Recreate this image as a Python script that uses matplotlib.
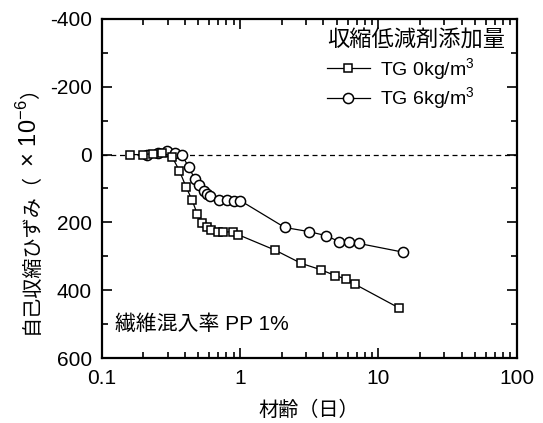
import matplotlib
matplotlib.use("Agg")
import matplotlib.pyplot as plt
from matplotlib.ticker import FixedLocator, NullFormatter, LogLocator

plt.rcParams['font.family'] = ['Liberation Sans', 'Noto Sans CJK JP', 'DejaVu Sans']
plt.rcParams['mathtext.fontset'] = 'custom'
plt.rcParams['mathtext.rm'] = 'Liberation Sans'
plt.rcParams['mathtext.it'] = 'Liberation Sans'
plt.rcParams['axes.unicode_minus'] = False

# Data
age_tg0 = [0.16, 0.20, 0.235, 0.275, 0.323, 0.365, 0.408, 0.451, 0.492, 0.532, 0.575,
           0.615, 0.695, 0.759, 0.896, 0.969, 1.80, 2.78, 3.87, 4.89, 5.84, 6.82, 14.2]
strain_tg0 = [0, 0, -3, -5, 6, 47, 95, 134, 175, 203, 215,
              222, 227, 229, 227, 236, 282, 321, 340, 357, 367, 383, 453]
age_tg6 = [0.212, 0.256, 0.296, 0.341, 0.382, 0.427, 0.471, 0.509, 0.550, 0.581, 0.608,
           0.710, 0.811, 0.906, 1.01, 2.11, 3.14, 4.19, 5.23, 6.18, 7.22, 15.2]
strain_tg6 = [0, -4, -10, -6, 2, 37, 71, 91, 108, 116, 122,
              134, 134, 136, 136, 215, 227, 239, 257, 259, 262, 288]

legend_title = '収縮低減剤添加量'
labels = ['TG 0kg/m$^3$', 'TG 6kg/m$^3$']
xlabel = '材齢（日）'
ylabel_parts = ['自己収縮ひずみ（', ' × 10$^{-6}$', '）']
note = '繊維混入率 PP 1%'
yticks = [-400, -200, 0, 200, 400, 600]

W, H = 543, 423
fig = plt.figure(figsize=(W/100, H/100), dpi=100)
ax = fig.add_axes([101.5/W, 1 - 358/H, (516.7-101.5)/W, (358-19)/H])

ax.axhline(0, color='black', lw=0.9, ls=(0, (4, 3)), zorder=1)
ax.plot(age_tg0, strain_tg0, color='black', lw=0.9, marker='s', ms=6.2,
        mfc='white', mec='black', mew=1.1, label=labels[0], zorder=3)
ax.plot(age_tg6, strain_tg6, color='black', lw=0.9, marker='o', ms=7.3,
        mfc='white', mec='black', mew=1.1, label=labels[1], zorder=2)

ax.set_xscale('log')
ax.set_xlim(0.1, 100)
ax.set_ylim(600, -400)
ax.set_yticks(yticks)
ax.set_yticklabels([str(v) for v in yticks])
ax.yaxis.set_minor_locator(FixedLocator([-300, -100, 100, 300, 500]))
ax.xaxis.set_minor_locator(LogLocator(base=10, subs=range(2, 10)))
ax.xaxis.set_minor_formatter(NullFormatter())
ax.set_xticks([0.1, 1, 10, 100])
ax.set_xticklabels(['0.1', '1', '10', '100'])

ax.tick_params(which='both', direction='in', top=True, right=True, labelsize=15, width=1.2)
ax.tick_params(which='major', length=7)
ax.tick_params(which='minor', length=4)
ax.tick_params(axis='x', which='major', pad=8)
ax.tick_params(axis='y', which='major', pad=7)
for s in ax.spines.values():
    s.set_linewidth(1.6)

ax.set_xlabel(xlabel, fontsize=14.5, labelpad=9)

leg = ax.legend(title=legend_title, loc='upper right', frameon=False, fontsize=14,
                title_fontsize=16, handlelength=2.2, handletextpad=0.5,
                borderaxespad=0.2, labelspacing=0.2, alignment='left')

ax.text(0.033, 0.1, note, transform=ax.transAxes, fontsize=15, va='center', ha='left')

# y-axis label built from pieces (CJK text + Latin math part)
fig.canvas.draw()
r = fig.canvas.get_renderer()
xb = 37 / W
ycur = 1 - 334 / H
fams = [['Noto Sans CJK JP'], ['Liberation Sans'], ['Noto Sans CJK JP']]
sizes = [14.5, 17, 14.5]
for part, fam, sz in zip(ylabel_parts, fams, sizes):
    t = fig.text(xb, ycur, part, rotation=90, rotation_mode='anchor', ha='left',
                 va='baseline', fontsize=sz, family=fam)
    bb = t.get_window_extent(r)
    ycur = bb.y1 / H

fig.savefig('out.png', dpi=100)
